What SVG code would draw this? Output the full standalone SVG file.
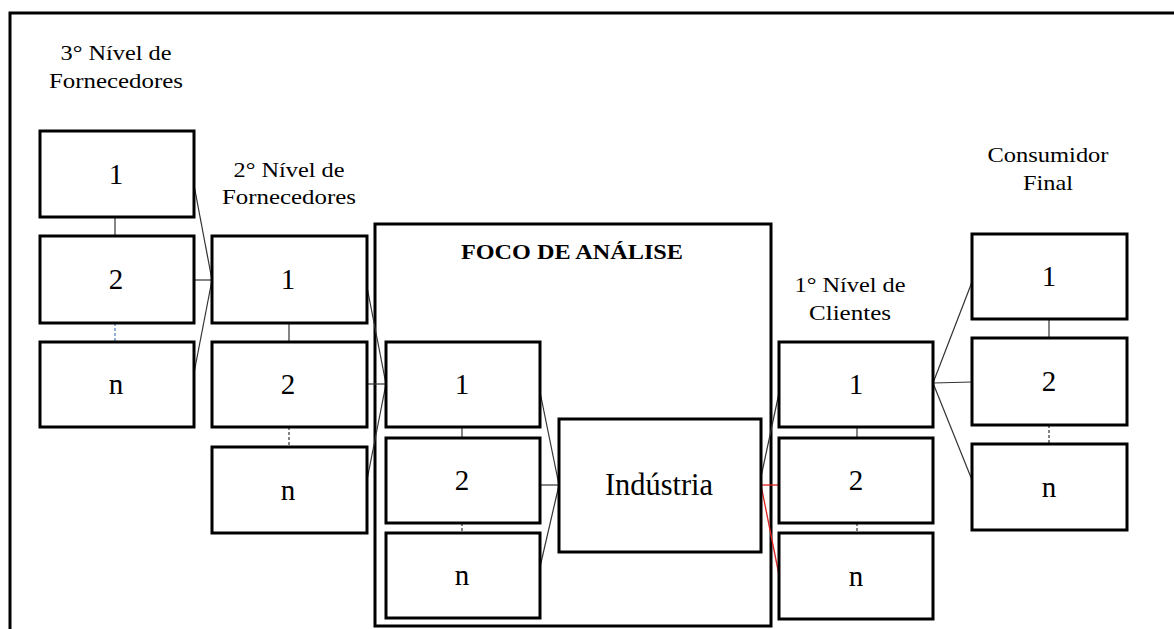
<svg xmlns="http://www.w3.org/2000/svg" width="1174" height="629" viewBox="0 0 1174 629">
<style>
.box{fill:#fff;stroke:#000;stroke-width:3}
.frame{fill:none;stroke:#000;stroke-width:3}
text{font-family:'Liberation Serif','Times New Roman',serif;fill:#000;text-anchor:middle}
.lbl{font-size:21px}
.num{font-size:29px}
.ttl{font-size:21px;font-weight:bold}
.ind{font-size:31px}
.c{stroke:#333;stroke-width:1.2;fill:none}
.d{stroke:#333;stroke-width:1.2;fill:none;stroke-dasharray:3 2}
.db{stroke:#4a7fc0;stroke-width:1.2;fill:none;stroke-dasharray:3 2}
.r{stroke:#e02020;stroke-width:1.3;fill:none}
</style>
<rect width="1174" height="629" fill="#fff"/>
<rect id="frame" class="frame" x="10" y="13" width="1200" height="700"/>

<g id="labels">
<text class="lbl" x="116" y="60" textLength="111" lengthAdjust="spacingAndGlyphs">3° Nível de</text>
<text class="lbl" x="116" y="88" textLength="134" lengthAdjust="spacingAndGlyphs">Fornecedores</text>
<text class="lbl" x="289" y="177" textLength="111" lengthAdjust="spacingAndGlyphs">2° Nível de</text>
<text class="lbl" x="289" y="204" textLength="134" lengthAdjust="spacingAndGlyphs">Fornecedores</text>
<text class="lbl" x="470" y="292" textLength="111" lengthAdjust="spacingAndGlyphs">1° Nível de</text>
<text class="lbl" x="471" y="319" textLength="134" lengthAdjust="spacingAndGlyphs">Fornecedores</text>
<text class="lbl" x="850" y="292" textLength="111" lengthAdjust="spacingAndGlyphs">1° Nível de</text>
<text class="lbl" x="850" y="320" textLength="82" lengthAdjust="spacingAndGlyphs">Clientes</text>
<text class="lbl" x="1048" y="162" textLength="121" lengthAdjust="spacingAndGlyphs">Consumidor</text>
<text class="lbl" x="1048" y="190" textLength="50" lengthAdjust="spacingAndGlyphs">Final</text>
</g>

<g id="foco">
<rect class="box" x="375" y="224" width="396" height="402"/>
<text class="ttl" x="572" y="259" textLength="222" lengthAdjust="spacingAndGlyphs">FOCO DE ANÁLISE</text>
</g>

<g id="connectors">
<line class="c" x1="115" y1="217" x2="115" y2="236"/>
<line class="db" x1="115" y1="323" x2="115" y2="342"/>
<line class="c" x1="194" y1="185" x2="212" y2="280"/>
<line class="c" x1="194" y1="280" x2="212" y2="280"/>
<line class="c" x1="194" y1="373" x2="212" y2="280"/>
<line class="c" x1="289" y1="323" x2="289" y2="342"/>
<line class="d" x1="289" y1="427" x2="289" y2="447"/>
<line class="c" x1="367" y1="287" x2="386" y2="384"/>
<line class="c" x1="367" y1="384" x2="386" y2="384"/>
<line class="c" x1="367" y1="480" x2="386" y2="384"/>
<line class="c" x1="462" y1="427" x2="462" y2="438"/>
<line class="d" x1="462" y1="523" x2="462" y2="533"/>
<line class="c" x1="540" y1="392" x2="559" y2="485"/>
<line class="c" x1="540" y1="485" x2="559" y2="485"/>
<line class="c" x1="540" y1="567" x2="559" y2="485"/>
<line class="c" x1="761" y1="477" x2="779" y2="393"/>
<line class="r" x1="761" y1="485" x2="779" y2="485"/>
<line class="r" x1="761" y1="485" x2="779" y2="575"/>
<line class="c" x1="857" y1="427" x2="857" y2="438"/>
<line class="d" x1="857" y1="523" x2="857" y2="533"/>
<line class="c" x1="933" y1="383" x2="972" y2="282"/>
<line class="c" x1="933" y1="383" x2="972" y2="382"/>
<line class="c" x1="933" y1="383" x2="972" y2="480"/>
<line class="c" x1="1049" y1="319" x2="1049" y2="338"/>
<line class="d" x1="1049" y1="425" x2="1049" y2="444"/>
</g>

<g id="n3-1"><rect class="box" x="40" y="131" width="154" height="86"/><text class="num" x="116" y="184">1</text></g>
<g id="n3-2"><rect class="box" x="40" y="236" width="154" height="87"/><text class="num" x="116" y="289">2</text></g>
<g id="n3-n"><rect class="box" x="40" y="342" width="154" height="85"/><text class="num" x="116" y="394">n</text></g>

<g id="n2-1"><rect class="box" x="212" y="236" width="155" height="87"/><text class="num" x="288" y="289">1</text></g>
<g id="n2-2"><rect class="box" x="212" y="342" width="155" height="85"/><text class="num" x="288" y="394">2</text></g>
<g id="n2-n"><rect class="box" x="212" y="447" width="155" height="86"/><text class="num" x="288" y="500">n</text></g>

<g id="n1-1"><rect class="box" x="386" y="342" width="154" height="85"/><text class="num" x="462" y="394">1</text></g>
<g id="n1-2"><rect class="box" x="386" y="438" width="154" height="85"/><text class="num" x="462" y="490">2</text></g>
<g id="n1-n"><rect class="box" x="386" y="533" width="154" height="85"/><text class="num" x="462" y="585">n</text></g>

<g id="industria"><rect class="box" x="559" y="419" width="202" height="133"/><text class="ind" x="659" y="495" textLength="108" lengthAdjust="spacingAndGlyphs">Indústria</text></g>

<g id="c1-1"><rect class="box" x="779" y="342" width="154" height="85"/><text class="num" x="856" y="394">1</text></g>
<g id="c1-2"><rect class="box" x="779" y="438" width="154" height="85"/><text class="num" x="856" y="490">2</text></g>
<g id="c1-n"><rect class="box" x="779" y="533" width="154" height="86"/><text class="num" x="856" y="586">n</text></g>

<g id="cf-1"><rect class="box" x="972" y="234" width="155" height="85"/><text class="num" x="1049" y="286">1</text></g>
<g id="cf-2"><rect class="box" x="972" y="338" width="155" height="87"/><text class="num" x="1049" y="391">2</text></g>
<g id="cf-n"><rect class="box" x="972" y="444" width="155" height="86"/><text class="num" x="1049" y="497">n</text></g>
</svg>
